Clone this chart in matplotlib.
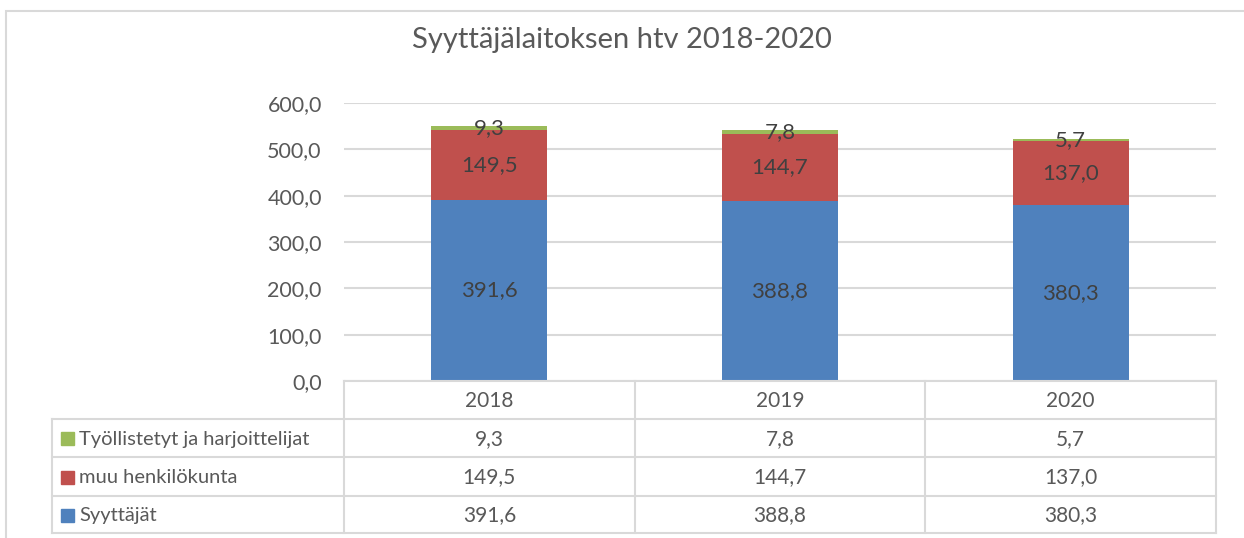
import matplotlib
matplotlib.use("Agg")
import matplotlib.pyplot as plt
from matplotlib.patches import Rectangle
import numpy as np

years = ["2018", "2019", "2020"]
series_names = ["Syyttäjät", "muu henkilökunta", "Työllistetyt ja harjoittelijat"]
syyttajat = [391.6, 388.8, 380.3]
muu = [149.5, 144.7, 137.0]
tyollistetyt = [9.3, 7.8, 5.7]
title = "Syyttäjälaitoksen htv 2018-2020"
yticks = [0, 100, 200, 300, 400, 500, 600]

colors = ["#4F81BD", "#C0504D", "#9BBB59"]
grid_c = "#D9D9D9"
txt_c = "#595959"
lab_c = "#404040"

plt.rcParams['font.family'] = ['Lato', 'DejaVu Sans']

W, H = 1244, 538
fig = plt.figure(figsize=(W / 100, H / 100), dpi=100)

def fx(px):
    return px / W

def fy(py):
    return 1 - py / H

# outer chart border (extends past right and bottom edges)
fig.patches.append(Rectangle((fx(6), fy(600)), fx(1300) - fx(6), fy(11) - fy(600),
                             transform=fig.transFigure, fill=False,
                             edgecolor=grid_c, linewidth=1.5))

fig.text(0.5, fy(40), title, ha="center", va="center", fontsize=21, color=txt_c)

# main plot axes
L, R, T, B = 344, 1216, 103, 381
ax = fig.add_axes([fx(L), fy(B), fx(R) - fx(L), fy(T) - fy(B)])
x = np.arange(len(years))
data = [syyttajat, muu, tyollistetyt]
bottom = np.zeros(len(years))
for vals, c in zip(data, colors):
    vals = np.array(vals)
    ax.bar(x, vals, 0.4, bottom=bottom, color=c, zorder=3)
    for xi, b, v in zip(x, bottom, vals):
        ax.text(xi, b + v / 2, f"{v:.1f}".replace(".", ","), ha="center", va="center",
                fontsize=16, color=lab_c, zorder=4)
    bottom += vals
ax.set_xlim(-0.5, len(years) - 0.5)
ax.set_ylim(0, 600)
ax.set_yticks(yticks)
ax.set_yticklabels([f"{v:.1f}".replace(".", ",") for v in yticks], fontsize=15.5, color=txt_c)
ax.tick_params(axis="y", length=0, pad=16)
ax.set_xticks([])
ax.grid(axis="y", color=grid_c, linewidth=1.5, zorder=0)
for s in ax.spines.values():
    s.set_visible(False)

# data table
TL, TT, TB = 52, 381, 533
tax = fig.add_axes([fx(TL), fy(TB), fx(R) - fx(TL), fy(TT) - fy(TB)])
tax.set_xlim(TL, R)
tax.set_ylim(TB, TT)
tax.axis("off")
colw = (R - L) / len(years)
row_y = [381, 419, 457, 496, 533]
lw = 1.5
tax.plot([L, R], [row_y[0], row_y[0]], color=grid_c, lw=lw, clip_on=False)
for yy in row_y[1:]:
    tax.plot([TL, R], [yy, yy], color=grid_c, lw=lw, clip_on=False)
for i in range(len(years) + 1):
    xx = L + i * colw
    tax.plot([xx, xx], [row_y[0], row_y[-1]], color=grid_c, lw=lw, clip_on=False)
tax.plot([TL, TL], [row_y[1], row_y[-1]], color=grid_c, lw=lw, clip_on=False)

for i, yr in enumerate(years):
    tax.text(L + (i + 0.5) * colw, (row_y[0] + row_y[1]) / 2 + 1, yr, ha="center", va="center",
             fontsize=15, color=txt_c)

rows = [(series_names[2], tyollistetyt, colors[2]),
        (series_names[1], muu, colors[1]),
        (series_names[0], syyttajat, colors[0])]
for r, (name, vals, c) in enumerate(rows):
    yc = (row_y[r + 1] + row_y[r + 2]) / 2
    tax.add_patch(Rectangle((61, yc - 6), 13, 13, color=c, clip_on=False))
    tax.text(79, yc + 1, name, ha="left", va="center", fontsize=14.5, color=txt_c)
    for i, v in enumerate(vals):
        tax.text(L + (i + 0.5) * colw, yc + 1, f"{v:.1f}".replace(".", ","), ha="center",
                 va="center", fontsize=15, color=txt_c)

fig.savefig("out.png", dpi=100)
